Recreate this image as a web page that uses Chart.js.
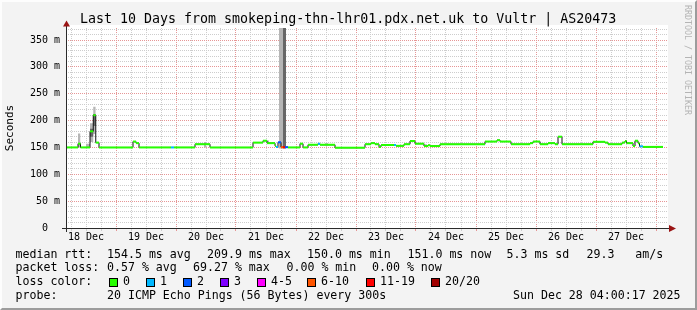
<!DOCTYPE html>
<html>
<head>
<meta charset="utf-8">
<script src="https://cdn.jsdelivr.net/npm/chart.js@4.4.1/dist/chart.umd.min.js"></script>
<style>
  html, body { margin: 0; padding: 0; background: #f3f3f3; }
  #wrap { position: relative; width: 697px; height: 310px; background: #f3f3f3; overflow: hidden;
          font-family: "DejaVu Sans Mono", monospace; color: #000; }
  #wrap canvas { position: absolute; left: 0; top: 0; }
  .frame { position: absolute; left: 0; top: 0; right: 0; bottom: 0; border-style: solid; border-width: 2px;
           border-color: #fdfdfd #9c9c9c #9c9c9c #fdfdfd; pointer-events: none; }
  .t { position: absolute; white-space: pre; line-height: 1; font-size: 11.6px; }
  .title { font-size: 13.3px; left: 80px; top: 12px; }
  .box { position: absolute; width: 9px; height: 9px; box-sizing: border-box; border: 1px solid #000; top: 278px; }
  .mark { position: absolute; left: 683px; top: 5px; writing-mode: vertical-rl; font-size: 8.3px;
          line-height: 10px; color: #b4b4b4; white-space: pre; }
</style>
</head>
<body>
<div id="wrap">
  <canvas id="chart" width="697" height="310"></canvas>
  <div class="t title">Last 10 Days from smokeping-thn-lhr01.pdx.net.uk to Vultr | AS20473</div>
  <div class="mark">RRDTOOL / TOBI OETIKER</div>

  <div class="t" style="left:15.5px;top:248.5px">median rtt:</div>
  <div class="t" style="left:107px;top:248.5px">154.5 ms avg</div>
  <div class="t" style="left:207px;top:248.5px">209.9 ms max</div>
  <div class="t" style="left:307px;top:248.5px">150.0 ms min</div>
  <div class="t" style="left:407.5px;top:248.5px">151.0 ms now</div>
  <div class="t" style="left:506.5px;top:248.5px">5.3 ms sd</div>
  <div class="t" style="left:586.5px;top:248.5px">29.3   am/s</div>

  <div class="t" style="left:15.5px;top:262px">packet loss:</div>
  <div class="t" style="left:107px;top:262px">0.57 % avg</div>
  <div class="t" style="left:193px;top:262px">69.27 % max</div>
  <div class="t" style="left:286.5px;top:262px">0.00 % min</div>
  <div class="t" style="left:372px;top:262px">0.00 % now</div>

  <div class="t" style="left:15.5px;top:276px">loss color:</div>
  <div id="lossLegend"></div>

  <div class="t" style="left:15.5px;top:290px">probe:</div>
  <div class="t" style="left:107px;top:290px">20 ICMP Echo Pings (56 Bytes) every 300s</div>
  <div class="t" style="left:513px;top:290px">Sun Dec 28 04:00:17 2025</div>

  <div class="frame"></div>
</div>
<script>
// hours since Dec 18 04:00, 10 days shown
const dayLabels = ["18 Dec", "19 Dec", "20 Dec", "21 Dec", "22 Dec", "23 Dec", "24 Dec", "25 Dec", "26 Dec", "27 Dec"];
const noonHours = [8, 32, 56, 80, 104, 128, 152, 176, 200, 224];
const midnightHours = [20, 44, 68, 92, 116, 140, 164, 188, 212, 236];
const yLabelValues = [0, 50, 100, 150, 200, 250, 300, 350];

const lossLabels = ["0", "1", "2", "3", "4-5", "6-10", "11-19", "20/20"];
const lossUpper = [0, 1, 2, 3, 5, 10, 19, 20];
const lossColors = ["#26ff00", "#00b8ff", "#0059ff", "#7e00ff", "#ff00ff", "#ff5500", "#ff0000", "#a10000"];

// median rtt (ms), one entry per run of equal value
const runStart = [0, 4.8, 5.8, 9.6, 10.9, 11.9, 13.2, 26.8, 28, 29.2,
  42, 43.2, 51.6, 57.6, 74.8, 78.8, 80.4, 83.6, 84, 84.8,
  86, 86.8, 87.6, 88.8, 93.6, 94.8, 96.8, 100.8, 101.6, 107.6,
  119.6, 122, 123.6, 125.2, 126, 131.2, 132, 135.2, 137.6, 139.6,
  143.2, 144.8, 145.6, 149.6, 167.6, 172.4, 173.6, 178, 185.6, 186.8,
  189.6, 192.8, 195.6, 196.8, 198.4, 210.8, 215.6, 216.8, 222.4, 223.6,
  224.2, 226.8, 227.6, 228.8, 229.4, 230.8];
const runMedian = [150, 157, 150, 180, 210, 159, 150, 161, 158, 150,
  150, 150, 156, 150, 159, 162.5, 158, 153, 151, 159.5,
  150.5, 150.5, 150.5, 150, 157, 150, 155, 157, 155, 149.5,
  156, 158, 156, 151, 154.5, 154.5, 153, 156, 162, 157,
  152.6, 154, 152.6, 156, 161, 163.5, 161, 156, 158, 161,
  156, 158, 156, 170, 156, 160.5, 159, 156, 159, 162,
  158, 152.6, 162.5, 158, 152, 151];
const runLoss = [0, 0, 0, 0, 0, 0, 0, 0, 0, 0,
  1, 0, 0, 0, 0, 0, 0, 0, 1, 2,
  8, 14, 2, 0, 0, 0, 0, 1, 0, 0,
  0, 0, 0, 0, 0, 1, 0, 0, 0, 0,
  0, 0, 0, 0, 0, 0, 0, 0, 0, 0,
  0, 0, 0, 0, 0, 0, 0, 0, 0, 0,
  0, 0, 0, 0, 1, 0];
const lastHour = 238.8;

// smoke (spread of the 20 pings)
const lightStart = [4.8, 8, 9.6, 10.9, 55.2, 80.4, 85.2, 103.6, 143.6];
const lightEnd = [5.8, 9.6, 10.9, 11.9, 56, 81.2, 86.8, 104.8, 144.4];
const lightLo = [150, 151, 160, 175, 150, 158, 148, 154, 152];
const lightHi = [176, 157, 195, 226, 160, 163, 372.4, 158, 156];
const darkStart = [9.6, 10.9, 86.8];
const darkEnd = [10.9, 11.9, 88];
const darkLo = [170, 190, 148];
const darkHi = [185, 212, 372.4];

function lossIndex(loss) {
  return lossUpper.findIndex(u => loss <= u);
}

// loss colour legend boxes
const boxLeft = [108.5, 145.5, 182.5, 219.5, 256.5, 306.5, 365.5, 430.5];
const legend = document.getElementById("lossLegend");
lossLabels.forEach((lbl, i) => {
  const b = document.createElement("div");
  b.className = "box";
  b.style.left = boxLeft[i] + "px";
  b.style.background = lossColors[i];
  legend.appendChild(b);
  const t = document.createElement("div");
  t.className = "t";
  t.style.left = (boxLeft[i] + 14.5) + "px";
  t.style.top = "276px";
  t.textContent = lbl;
  legend.appendChild(t);
});

// coloured median: horizontal pieces only
const medianPieces = [];
runStart.forEach((s, i) => {
  const e = i + 1 < runStart.length ? runStart[i + 1] : lastHour;
  medianPieces.push({ x: s, y: runMedian[i], loss: runLoss[i] });
  medianPieces.push({ x: e, y: runMedian[i], loss: runLoss[i] });
  medianPieces.push({ x: e, y: null });
});
// dark median line with the vertical steps
const medianSteps = runStart.map((s, i) => ({ x: s, y: runMedian[i] }));
medianSteps.push({ x: lastHour, y: runMedian[runMedian.length - 1] });

function smokeLine(starts, ends, values) {
  const pts = [];
  starts.forEach((s, i) => {
    pts.push({ x: s, y: values[i] });
    pts.push({ x: ends[i], y: values[i] });
    if (starts[i + 1] !== ends[i]) pts.push({ x: ends[i], y: null });
  });
  return pts;
}

const gridHours = [];
for (let h = 2; h < 240; h += 6) gridHours.push(h);
const yGrid = [];
for (let v = 0; v <= 370; v += 10) yGrid.push(v);

const minorGrid = "#cdcdcd";
const majorGrid = "#e69696";

const plotBg = {
  id: "plotBg",
  beforeDraw(chart) {
    const { ctx, chartArea: a } = chart;
    ctx.save();
    ctx.fillStyle = "#ffffff";
    ctx.fillRect(a.left, a.top - 3, a.right - a.left, a.bottom - a.top + 3);
    ctx.restore();
  }
};

const axisArrows = {
  id: "axisArrows",
  afterDatasetsDraw(chart) {
    const { ctx, chartArea: a } = chart;
    const x0 = Math.round(chart.scales.x.getPixelForValue(0));
    const y0 = Math.round(chart.scales.y.getPixelForValue(0));
    ctx.save();
    ctx.fillStyle = "#2a2a2a";
    ctx.fillRect(x0 - 4, y0, a.right - x0 + 6, 1);
    ctx.fillRect(x0, a.top - 4, 1, y0 - a.top + 8);
    ctx.fillStyle = "#9a1414";
    ctx.beginPath();
    ctx.moveTo(a.right + 1, y0 - 3);
    ctx.lineTo(a.right + 8, y0 + 0.5);
    ctx.lineTo(a.right + 1, y0 + 4);
    ctx.fill();
    ctx.beginPath();
    ctx.moveTo(x0 - 3, a.top - 1.5);
    ctx.lineTo(x0 + 0.5, a.top - 7.5);
    ctx.lineTo(x0 + 4, a.top - 1.5);
    ctx.fill();
    ctx.restore();
  }
};

const monoTicks = { family: "DejaVu Sans Mono", size: 10 };

new Chart(document.getElementById("chart"), {
  type: "line",
  data: {
    datasets: [
      {
        data: medianPieces,
        borderColor: lossColors[0],
        borderWidth: 2,
        borderCapStyle: "butt",
        pointRadius: 0,
        spanGaps: false,
        order: 0,
        segment: {
          borderColor: c => lossColors[lossIndex(medianPieces[c.p0DataIndex].loss)]
        }
      },
      {
        data: medianSteps,
        borderColor: "#111111",
        borderWidth: 1,
        stepped: true,
        pointRadius: 0,
        order: 1
      },
      {
        data: smokeLine(darkStart, darkEnd, darkHi),
        borderWidth: 0,
        backgroundColor: "#686868",
        fill: "+1",
        stepped: true,
        pointRadius: 0,
        order: 2
      },
      {
        data: smokeLine(darkStart, darkEnd, darkLo),
        borderWidth: 0,
        stepped: true,
        pointRadius: 0,
        order: 3
      },
      {
        data: smokeLine(lightStart, lightEnd, lightHi),
        borderWidth: 0,
        backgroundColor: "#b6b6b6",
        fill: "+1",
        stepped: true,
        pointRadius: 0,
        order: 4
      },
      {
        data: smokeLine(lightStart, lightEnd, lightLo),
        borderWidth: 0,
        stepped: true,
        pointRadius: 0,
        order: 5
      }
    ]
  },
  options: {
    responsive: false,
    animation: false,
    events: [],
    layout: { padding: { left: 0, top: 28, right: 29, bottom: 62 } },
    plugins: {
      legend: { display: false },
      tooltip: { enabled: false }
    },
    scales: {
      x: {
        type: "linear",
        min: 0,
        max: 240.8,
        afterBuildTicks: s => { s.ticks = gridHours.map(v => ({ value: v })); },
        afterFit: s => { s.height = 20; },
        border: { display: false, dash: [1, 1] },
        grid: {
          color: c => midnightHours.includes(c.tick.value) ? majorGrid : minorGrid,
          tickColor: c => midnightHours.includes(c.tick.value) ? majorGrid : minorGrid,
          borderDash: [1, 1],
          tickLength: 3,
          lineWidth: 1
        },
        ticks: {
          autoSkip: false,
          maxRotation: 0,
          minRotation: 0,
          padding: 0,
          color: "#000",
          font: monoTicks,
          callback: v => {
            const i = noonHours.indexOf(v);
            return i >= 0 ? dayLabels[i] : "";
          }
        }
      },
      y: {
        min: 0,
        max: 372.4,
        afterBuildTicks: s => { s.ticks = yGrid.map(v => ({ value: v })); },
        afterFit: s => { s.width = 66; },
        border: { display: false, dash: [1, 1] },
        grid: {
          color: c => yLabelValues.includes(c.tick.value) ? majorGrid : minorGrid,
          tickColor: "rgba(0,0,0,0)",
          borderDash: [1, 1],
          tickLength: 4,
          lineWidth: 1
        },
        ticks: {
          autoSkip: false,
          padding: 2,
          color: "#000",
          font: monoTicks,
          callback: v => {
            if (!yLabelValues.includes(v)) return "";
            return v === 0 ? "0  " : v + " m";
          }
        },
        title: {
          display: true,
          text: "Seconds",
          color: "#000",
          font: { family: "DejaVu Sans Mono", size: 11 },
          padding: { top: 4, bottom: 0 }
        }
      }
    }
  },
  plugins: [plotBg, axisArrows]
});
</script>
</body>
</html>
